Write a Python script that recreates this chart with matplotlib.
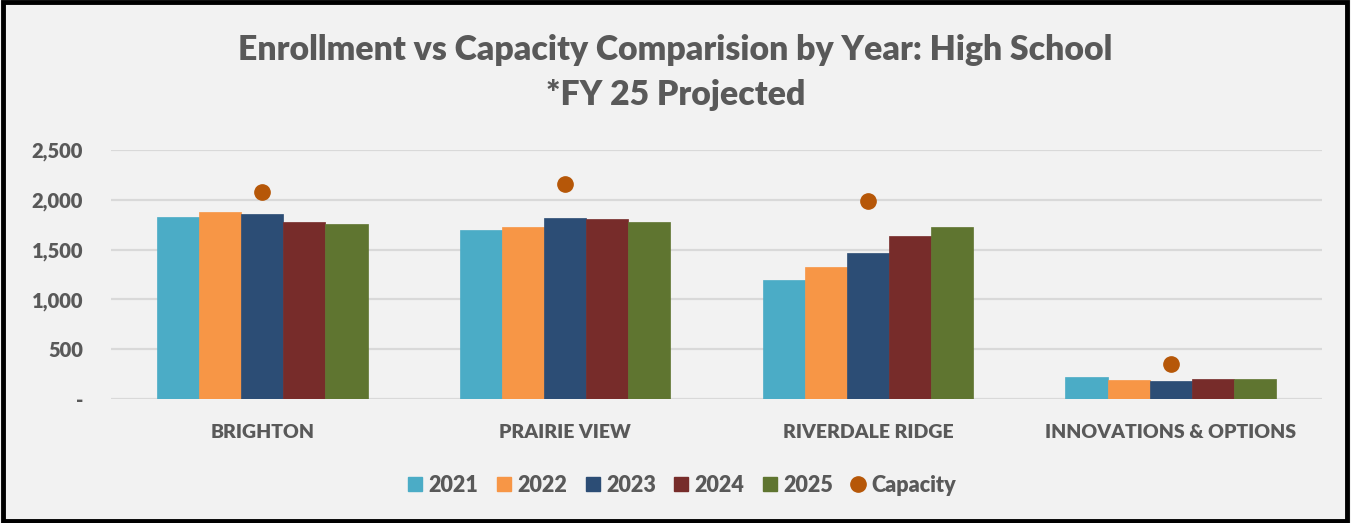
import matplotlib
matplotlib.use("Agg")
import matplotlib.pyplot as plt
import numpy as np
from matplotlib.ticker import FuncFormatter
from matplotlib.patches import Rectangle
from matplotlib.lines import Line2D

schools = ["BRIGHTON", "PRAIRIE VIEW", "RIVERDALE RIDGE", "INNOVATIONS & OPTIONS"]
years = ["2021", "2022", "2023", "2024", "2025"]
enroll_2021 = [1830, 1693, 1192, 218]
enroll_2022 = [1881, 1723, 1328, 191]
enroll_2023 = [1854, 1820, 1463, 178]
enroll_2024 = [1774, 1804, 1633, 198]
enroll_2025 = [1760, 1774, 1727, 201]
capacity = [2078, 2155, 1985, 351]
yticks = [0, 500, 1000, 1500, 2000, 2500]

series = [enroll_2021, enroll_2022, enroll_2023, enroll_2024, enroll_2025]
colors = ["#4BACC6", "#F79646", "#2C4D75", "#772C2A", "#5F7530"]
cap_color = "#B65708"
text_color = "#595959"
bg = "#F2F2F2"
font = "Lato"
wt = 800

W, H = 1351, 523
fig = plt.figure(figsize=(W / 100, H / 100), dpi=100, facecolor=bg)
ax = fig.add_axes([111 / W, 1 - 399 / H, (1322 - 111) / W, (399 - 150) / H])
ax.set_facecolor(bg)

x = np.arange(len(schools))
bw = 0.139
for i, (vals, c) in enumerate(zip(series, colors)):
    ax.bar(x + (i - 2) * bw, vals, width=bw, color=c, edgecolor=c, linewidth=0.5,
           label=years[i], zorder=3)
ax.plot(x, capacity, "o", color=cap_color, markersize=11, zorder=4, label="Capacity")

ax.set_xlim(-0.5, len(schools) - 0.5)
ax.set_ylim(0, 2500)
ax.set_yticks(yticks)
ax.yaxis.set_major_formatter(FuncFormatter(lambda v, p: "-" if v == 0 else f"{int(v):,}"))
ax.grid(axis="y", color="#D9D9D9", linewidth=1.6, zorder=0)
for s in ax.spines.values():
    s.set_visible(False)
ax.tick_params(axis="both", length=0)
ax.tick_params(axis="y", pad=20, labelsize=14.5, labelcolor=text_color)
ax.tick_params(axis="x", pad=18, labelsize=14, labelcolor=text_color)
ax.set_xticks(x)
ax.set_xticklabels(schools)
for lab in ax.get_xticklabels() + ax.get_yticklabels():
    lab.set_fontfamily(font)
    lab.set_fontweight(wt)

fig.text(0.5, 1 - 50 / H, "Enrollment vs Capacity Comparision by Year: High School",
         ha="center", va="center", fontsize=24.3, fontweight=wt, color=text_color, family=font)
fig.text(0.5, 1 - 95 / H, "*FY 25 Projected",
         ha="center", va="center", fontsize=24.3, fontweight=wt, color=text_color, family=font)

handles = [Rectangle((0, 0), 1, 1, color=c) for c in colors]
handles.append(Line2D([], [], marker="o", color=cap_color, linestyle="none", markersize=11))
leg = fig.legend(handles, years + ["Capacity"], loc="center",
                 bbox_to_anchor=(0.5 + 7 / W, 1 - 485 / H),
                 ncol=6, frameon=False, handlelength=0.65, handleheight=0.65, handletextpad=0.3,
                 columnspacing=0.85, prop={"family": font, "weight": wt, "size": 15.5})
for t in leg.get_texts():
    t.set_color(text_color)

fig.add_artist(Rectangle((0.002, 0.004), 0.995, 0.992, transform=fig.transFigure,
                         fill=False, edgecolor="black", linewidth=3.5))

fig.savefig("out.png", dpi=100, facecolor=bg)
